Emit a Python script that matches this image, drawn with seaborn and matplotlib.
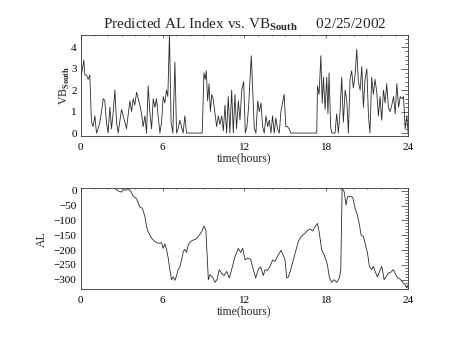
import numpy as np
import pandas as pd
import matplotlib
matplotlib.use("Agg")
import matplotlib.pyplot as plt
from matplotlib.ticker import MultipleLocator
import seaborn as sns

# VB_South (predicted driver) vs. time of day
vb_hours = [
    0.00, 0.10, 0.22, 0.30, 0.42, 0.54, 0.66, 0.78, 0.90, 1.03, 1.15, 1.27, 1.39, 1.52,
    1.64, 1.76, 1.88, 2.00, 2.13, 2.25, 2.38, 2.50, 2.62, 2.74, 2.87, 2.99, 3.11, 3.23,
    3.35, 3.48, 3.60, 3.72, 3.84, 3.96, 4.09, 4.21, 4.33, 4.45, 4.57, 4.70, 4.82, 4.94,
    5.06, 5.19, 5.31, 5.43, 5.55, 5.67, 5.80, 5.92, 6.04, 6.16, 6.28, 6.38, 6.50, 6.62,
    6.75, 6.90, 7.02, 7.14, 7.26, 7.38, 7.50, 7.63, 7.75, 8.90, 9.03, 9.12, 9.20, 9.30,
    9.40, 9.50, 9.60, 9.70, 9.84, 9.96, 10.08, 10.20, 10.33, 10.45, 10.57, 10.69, 10.81,
    10.93, 11.06, 11.18, 11.30, 11.42, 11.55, 11.67, 11.80, 11.94, 12.06, 12.18, 12.30,
    12.40, 12.50, 12.60, 12.72, 12.84, 12.97, 13.09, 13.21, 13.33, 13.45, 13.58, 13.70,
    13.82, 13.94, 14.06, 14.18, 14.30, 14.42, 14.55, 14.67, 14.79, 14.91, 15.03, 15.15,
    15.27, 15.40, 17.30, 17.35, 17.47, 17.60, 17.70, 17.79, 17.91, 18.03, 18.12, 18.20,
    18.32, 18.40, 18.64, 18.76, 18.88, 19.01, 19.13, 19.25, 19.38, 19.50, 19.62, 19.74,
    19.86, 19.98, 20.11, 20.23, 20.35, 20.48, 20.60, 20.72, 20.84, 20.97, 21.09, 21.20,
    21.33, 21.45, 21.57, 21.70, 21.82, 21.94, 22.06, 22.19, 22.31, 22.43, 22.55, 22.68,
    22.80, 22.93, 23.05, 23.17, 23.30, 23.42, 23.54, 23.66, 23.78, 23.90, 24.00,
]
vb_south = [
    2.6, 2.9, 3.4, 2.7, 2.7, 2.5, 2.7, 0.5, 0.3, 0.8, 0.0, 0.2, 0.5, 1.0,
    1.6, 1.5, 0.5, 0.0, 1.2, 0.2, 1.0, 2.0, 0.5, 0.0, 0.6, 1.1, 0.8, 0.5,
    0.2, 0.9, 1.5, 1.0, 1.6, 1.3, 1.9, 1.6, 1.3, 0.9, 0.3, 0.8, 0.0, 2.2,
    1.0, 0.2, 1.6, 1.2, 1.6, 0.8, 0.0, 0.5, 1.7, 1.4, 2.0, 1.7, 4.6, 0.5,
    0.0, 3.3, 0.0, 0.2, 0.6, 0.3, 0.0, 0.8, 0.0, 0.0, 2.8, 2.5, 2.9, 1.5,
    2.3, 1.0, 1.8, 1.6, 0.9, 0.3, 0.8, 0.4, 0.8, 0.1, 1.3, 0.0, 1.7,
    0.0, 2.0, 0.0, 1.8, 0.2, 1.5, 0.6, 2.0, 2.4, 0.0, 0.3, 1.2,
    2.4, 3.6, 2.0, 0.2, 0.0, 1.5, 1.0, 1.4, 0.3, 0.0, 0.8, 0.3,
    0.6, 0.0, 0.8, 0.0, 0.7, 0.2, 0.0, 1.0, 1.4, 1.8, 0.3, 0.3,
    0.2, 0.0, 0.0, 2.2, 1.8, 3.6, 1.4, 2.6, 1.1, 2.6, 0.9, 2.8,
    0.3, 0.0, 0.0, 0.9, 0.0, 1.0, 2.6, 0.5, 2.0, 1.5, 0.0, 2.5,
    2.9, 2.1, 2.7, 3.9, 2.4, 2.0, 3.1, 1.2, 2.5, 3.0, 0.8, 0.0,
    2.6, 1.8, 2.5, 1.9, 0.8, 1.7, 0.6, 2.0, 1.4, 2.3, 1.2, 1.0,
    1.3, 1.7, 0.9, 2.3, 1.2, 1.7, 1.6, 1.7, 0.2, 0.8, 0.0,
]

# Predicted AL index
al_hours = [
    2.50, 2.74, 2.99, 3.11, 3.30, 3.47, 3.67, 3.84, 4.08, 4.33, 4.52, 4.70, 4.82, 4.94,
    5.06, 5.19, 5.43, 5.68, 5.92, 6.04, 6.16, 6.29, 6.41, 6.53, 6.65, 6.77, 6.90, 7.02,
    7.14, 7.26, 7.39, 7.51, 7.63, 7.75, 7.88, 8.05, 8.25, 8.44, 8.61, 8.86, 9.03, 9.17,
    9.35, 9.47, 9.66, 9.84, 10.00, 10.15, 10.32, 10.50, 10.69, 10.89, 11.06, 11.30,
    11.55, 11.72, 11.87, 12.04, 12.21, 12.45, 12.65, 12.82, 13.02, 13.19, 13.38, 13.51,
    13.68, 13.87, 14.07, 14.24, 14.41, 14.56, 14.68, 14.85, 14.97, 15.10, 15.22, 15.39,
    15.58, 15.78, 15.95, 16.07, 16.27, 16.44, 16.61, 16.81, 17.00, 17.18, 17.35, 17.49,
    17.66, 17.84, 17.98, 18.08, 18.23, 18.40, 18.57, 18.77, 18.96, 19.06, 19.16, 19.31,
    19.45, 19.55, 19.74, 19.94, 20.11, 20.28, 20.43, 20.55, 20.72, 20.87, 21.02, 21.16,
    21.33, 21.45, 21.58, 21.75, 21.90, 22.07, 22.24, 22.39, 22.56, 22.73, 22.92, 23.09,
    23.24, 23.41, 23.61, 23.78, 23.90, 24.00,
]
al_index = [
    8, 0, -4, 4, 2, 7, -2, -18, -26, -54, -59, -87, -121, -138,
    -149, -160, -171, -177, -175, -194, -179, -199, -227, -266, -300, -291, -302, -286,
    -266, -257, -233, -205, -197, -208, -182, -171, -166, -163, -154, -138, -119, -132,
    -300, -283, -291, -309, -298, -266, -278, -286, -272, -294, -266, -222,
    -194, -208, -194, -233, -227, -231, -266, -294, -264, -257, -286, -266,
    -269, -255, -233, -238, -222, -210, -201, -219, -233, -294, -291, -266,
    -233, -199, -171, -160, -149, -143, -134, -129, -135, -121, -110, -143,
    -199, -216, -233, -250, -294, -309, -300, -309, -294, -266, 8, -3,
    -48, -20, -18, -22, -59, -82, -115, -149, -154, -182, -210, -255,
    -266, -255, -272, -291, -272, -255, -300, -289, -278, -275, -266, -283,
    -294, -298, -309, -317, -328, -317,
]

time_ticks = [0, 6, 12, 18, 24]

vb_df = pd.DataFrame({"hours": vb_hours, "vb": vb_south})
al_df = pd.DataFrame({"hours": al_hours, "al": al_index})

sns.set_style("white")
plt.rcParams["font.family"] = ["Liberation Serif", "DejaVu Serif"]
plt.rcParams["mathtext.fontset"] = "custom"
plt.rcParams["mathtext.rm"] = "Liberation Serif"
plt.rcParams["mathtext.bf"] = "Liberation Serif:bold"

fig = plt.figure(figsize=(4.54, 3.41), dpi=100)
ax1 = fig.add_axes([0.178, 0.601, 0.721, 0.296])
ax2 = fig.add_axes([0.178, 0.152, 0.721, 0.296])

line_kw = dict(color="#2a2a2a", linewidth=0.6, estimator=None, sort=False, legend=False)
sns.lineplot(data=vb_df, x="hours", y="vb", ax=ax1, **line_kw)
sns.lineplot(data=al_df, x="hours", y="al", ax=ax2, **line_kw)

ax1.set_ylim(-0.14, 4.56)
ax1.yaxis.set_major_locator(MultipleLocator(1))
ax1.yaxis.set_minor_locator(MultipleLocator(0.2))
ax2.set_ylim(-332, 9)
ax2.yaxis.set_major_locator(MultipleLocator(50))
ax2.yaxis.set_minor_locator(MultipleLocator(10))

for ax in (ax1, ax2):
    ax.set_xlim(0, 24)
    ax.set_xticks(time_ticks)
    ax.xaxis.set_minor_locator(MultipleLocator(1))
    for side in ax.spines.values():
        side.set_visible(True)
        side.set_linewidth(0.6)
        side.set_color("#333333")
    ax.tick_params(which="both", direction="in", top=True, right=True,
                   colors="#333333", width=0.5, labelsize=8, labelcolor="black")
    ax.tick_params(axis="y", which="major", length=4.7, pad=3)
    ax.tick_params(axis="y", which="minor", length=2.3)
    ax.tick_params(axis="x", which="major", length=2.0, pad=5)
    ax.tick_params(axis="x", which="minor", length=1.0)
    ax.set_xlabel("time(hours)", fontsize=8.5, labelpad=0)

ax1.set_ylabel(r"VB$_{\mathbf{South}}$", fontsize=8.5, labelpad=-1)
ax2.set_ylabel("AL", fontsize=8.5, labelpad=4)
ax1.set_title(r"Predicted AL Index vs. VB$_{\mathbf{South}}$     02/25/2002",
              fontsize=11, pad=5)

fig.savefig("out.png", dpi=100)
